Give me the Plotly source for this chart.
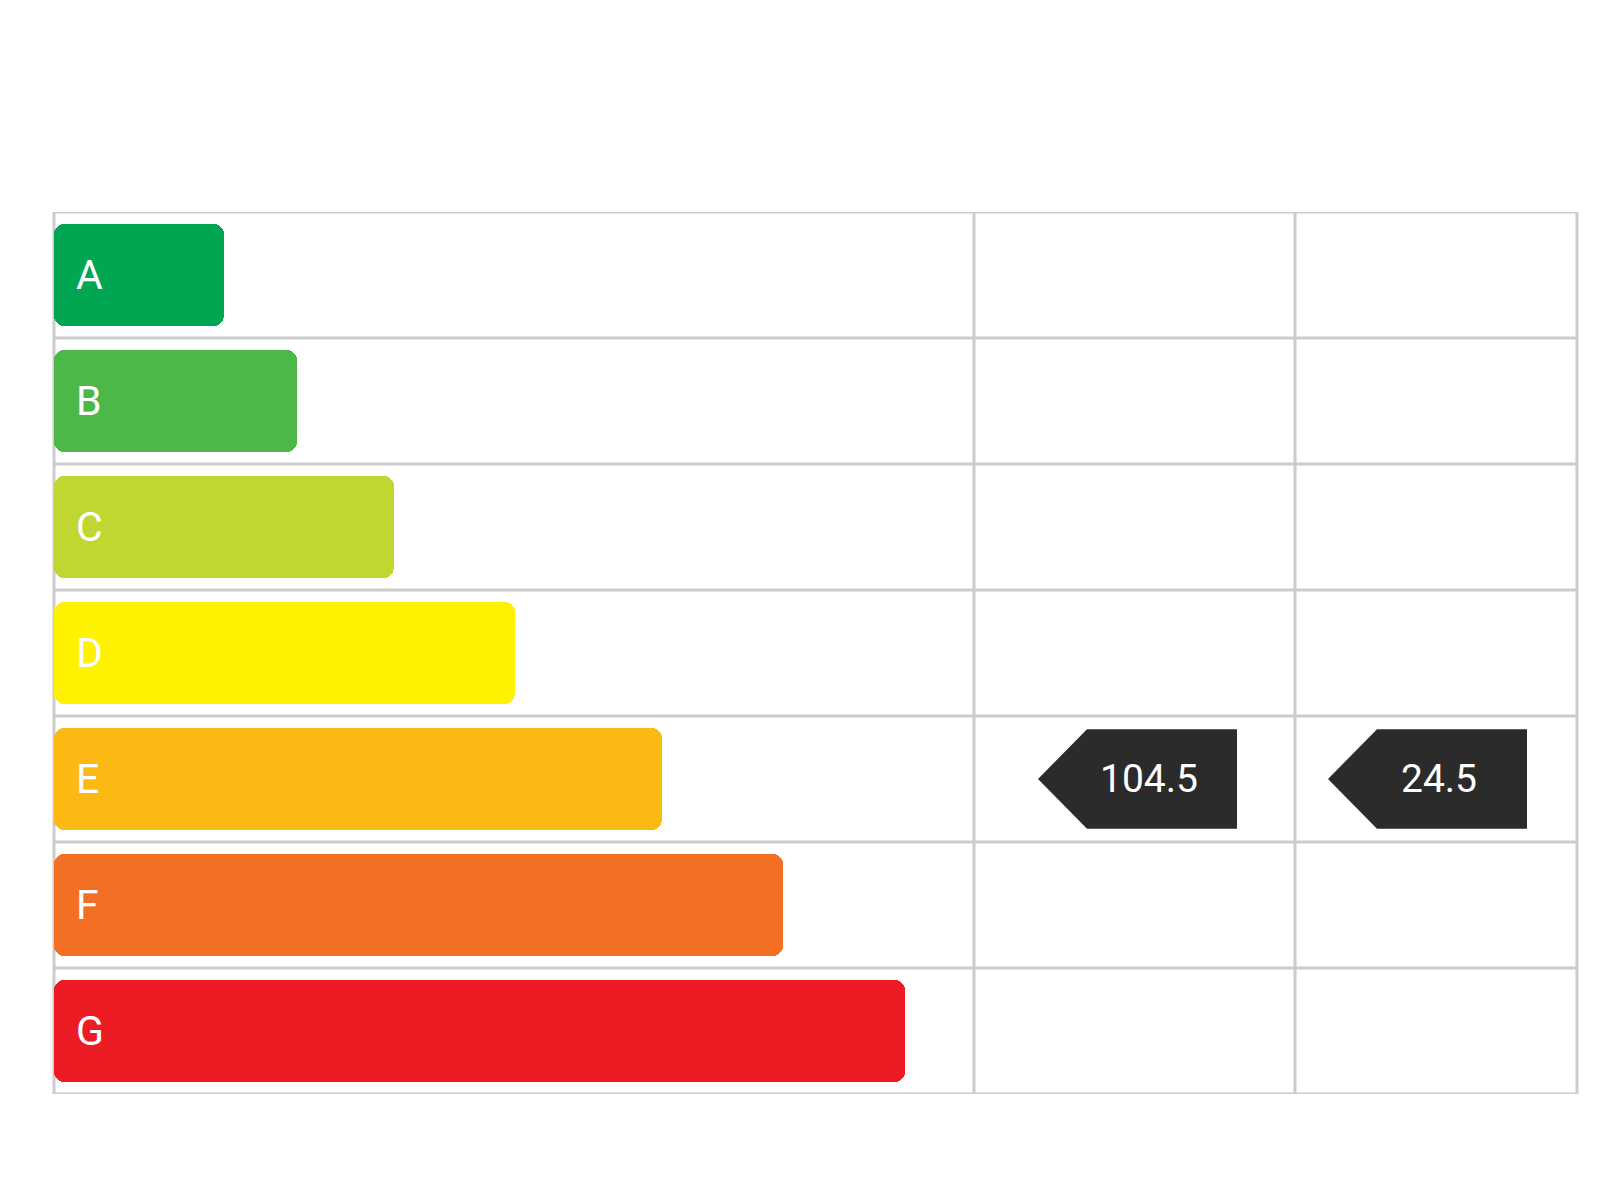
import plotly.graph_objects as go

# datos de la escala
clases = ['A', 'B', 'C', 'D', 'E', 'F', 'G']
longitudes = [170, 243, 340, 461, 608, 729, 851]  # píxeles desde el borde izquierdo
colores = ['#00a651', '#4cb848', '#bfd730', '#fff200', '#fdb913', '#f36f24', '#ed1c24']
clase_edificio = 'E'
consumo = 104.5
emisiones = 24.5

GRIS = '#cccccc'
OSCURO = '#2b2b2b'
X0, X1, X2, X3 = 46, 966, 1287, 1569
Y_TOP, Y_BOT = 204, 1086
PASO = (Y_BOT - Y_TOP) / len(clases)


def fila_px(p):
    """convierte una posición vertical en píxeles a unidades de fila"""
    return -0.5 + (p - Y_TOP) / PASO


fig = go.Figure()
filas = list(range(len(clases)))

fig.add_trace(go.Bar(
    y=filas, x=longitudes, base=X0, orientation='h', width=0.81,
    marker=dict(color=colores, cornerradius=10, line=dict(width=0)),
    showlegend=False, hoverinfo='skip'))

# letras
for i, c in enumerate(clases):
    fig.add_annotation(x=X0 + 20, y=i, text=c, showarrow=False, xanchor='left',
                       font=dict(color='white', size=41, family='Roboto'))

# rejilla
for i in range(len(clases) + 1):
    fig.add_shape(type='line', x0=X0, x1=X3, y0=i - 0.5, y1=i - 0.5,
                  line=dict(color=GRIS, width=3), layer='below')
for xv in (X0, X1, X2, X3):
    fig.add_shape(type='line', x0=xv, x1=xv, y0=-0.5, y1=len(clases) - 0.5,
                  line=dict(color=GRIS, width=3), layer='below')

# indicadores
fila = clases.index(clase_edificio)
for valor, xs in ((consumo, 1030), (emisiones, 1320)):
    h = 0.395
    fig.add_trace(go.Scatter(
        x=[xs, xs + 49, xs + 199, xs + 199, xs + 49, xs],
        y=[fila, fila - h, fila - h, fila + h, fila + h, fila],
        fill='toself', fillcolor=OSCURO, mode='lines', line=dict(width=0),
        showlegend=False, hoverinfo='skip'))
    fig.add_annotation(x=xs + 111, y=fila, text=f'{valor:g}', showarrow=False,
                       font=dict(color='white', size=39, family='Roboto'))

# títulos
fig.add_annotation(x=X0, y=fila_px(127), xanchor='left',
                   text='ESCALA DE CALIFICACIÓN ENERGÉTICA', showarrow=False,
                   font=dict(size=49, color=OSCURO, family='Roboto'))
cab = dict(showarrow=False, y=fila_px(147), align='center',
           font=dict(size=25, color=OSCURO, family='Roboto'))
fig.add_annotation(x=1122, text='Consumo de energía<br>primaria no renovable<br>kWh / m<sup>2</sup> año', **cab)
fig.add_annotation(x=1420, text='Emisiones de dióxido<br>de carbono<br>kg CO<sub>2</sub> / m<sup>2</sup> año', **cab)

fig.update_xaxes(range=[0, 1600], visible=False, domain=[0, 1])
fig.update_yaxes(range=[len(clases) - 0.5, -0.5], visible=False,
                 domain=[1 - Y_BOT / 1200, 1 - Y_TOP / 1200])
fig.update_layout(width=1600, height=1200, margin=dict(l=0, r=0, t=0, b=0),
                  plot_bgcolor='white', paper_bgcolor='white', bargap=0)

fig.write_html("out.html")
